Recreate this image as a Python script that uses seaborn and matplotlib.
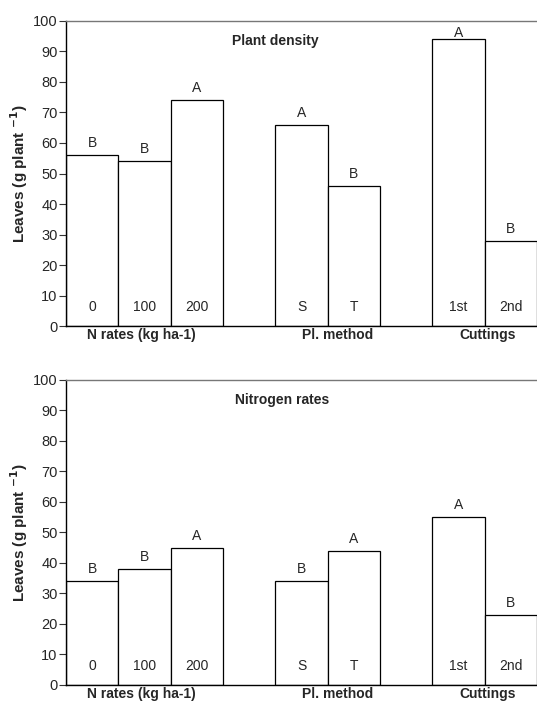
import numpy as np
import pandas as pd
import matplotlib
matplotlib.use('Agg')
import matplotlib.pyplot as plt
import matplotlib.transforms as mtrans
import seaborn as sns

# bar levels and positions (one slot per bar, a blank slot between groups)
levels = ['0', '100', '200', 'S', 'T', '1st', '2nd']
slots = [0.5, 1.5, 2.5, 4.5, 5.5, 7.5, 8.5]
groups = ['N rates (kg ha-1)', 'Pl. method', 'Cuttings']
group_x = [1.45, 5.2, 8.05]

density_vals = [56, 54, 74, 66, 46, 94, 28]
density_letters = ['B', 'B', 'A', 'A', 'B', 'A', 'B']
nitrogen_vals = [34, 38, 45, 34, 44, 55, 23]
nitrogen_letters = ['B', 'B', 'A', 'B', 'A', 'A', 'B']

panels = [('Plant density', 4.0, density_vals, density_letters),
          ('Nitrogen rates', 4.13, nitrogen_vals, nitrogen_letters)]

sns.set_style('white')
plt.rcParams['font.family'] = ['Liberation Sans', 'DejaVu Sans']

fig = plt.figure(figsize=(5.37, 7.04), dpi=100)
ax_top = fig.add_axes([0.1229, 0.5369, 0.877, 0.4333])
ax_bot = fig.add_axes([0.1229, 0.0270, 0.877, 0.4333])

for ax, (title, tx, vals, letters) in zip([ax_top, ax_bot], panels):
    df = pd.DataFrame({'pos': slots, 'val': vals})
    sns.barplot(data=df, x='pos', y='val', native_scale=True, width=1,
                color='white', edgecolor='black', linewidth=0.9, ax=ax)
    ax.set_xlim(0, 9)
    ax.set_ylim(0, 100)
    ax.set_yticks(np.arange(0, 101, 10))
    ax.set_xticks([])
    ax.set_xlabel('')
    ax.set_ylabel('Leaves (g plant $^{\\mathbf{-1}}$)', fontsize=11, fontweight='bold', labelpad=2)
    ax.tick_params(axis='y', direction='out', length=5, width=0.8, labelsize=10.5,
                   pad=1, left=True, color='#333333')
    for s in ['left', 'bottom']:
        ax.spines[s].set_color('black')
        ax.spines[s].set_linewidth(1)
    ax.spines['top'].set_color('#777777')
    ax.spines['top'].set_linewidth(1)
    ax.spines['right'].set_visible(False)

    for x, v, let, lev in zip(slots, vals, letters, levels):
        # letters squeeze onto the bar top when close to the upper limit
        ax.text(x, min(v + 1.6, 93.7), let, ha='center', va='bottom', fontsize=10)
        ax.text(x, 3.8, lev, ha='center', va='bottom', fontsize=10)

    ax.text(tx, 93.3, title, ha='center', va='center', fontsize=10, fontweight='bold')

    trans = mtrans.blended_transform_factory(ax.transData, ax.transAxes)
    for gx, g in zip(group_x, groups):
        ax.text(gx, -0.008, g, transform=trans, ha='center', va='top',
                fontsize=10, fontweight='bold')

fig.savefig('out.png', dpi=100)
